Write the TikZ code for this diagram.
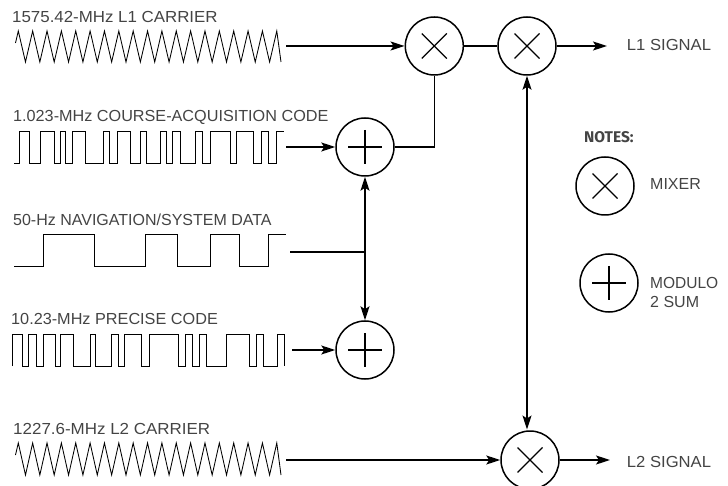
\documentclass[tikz,border=0pt]{standalone}
\usepackage{fontspec}
\setmainfont{Liberation Sans}
\newfontfamily\notesfont{Fira Sans}
\usetikzlibrary{arrows.meta}
\definecolor{labelgray}{HTML}{444444}
\newcommand{\carrierwave}[2]{%
  \draw[wave] (15.5,#1+12) -- (18.3,#1)
    \foreach \i in {0,...,17}{ -- ({25.48+14.36*\i},#2) -- ({32.66+14.36*\i},#1) }
    -- (281,#2);
}
\begin{document}
\begin{tikzpicture}[x=1pt,y=-1pt]

    \tikzset{
      wave/.style={line width=0.85pt, line join=miter},
      link/.style={line width=1.5pt},
      arrow/.style={link, -{Stealth[length=14pt,width=9pt,inset=3pt]}},
      twoway/.style={link, {Stealth[length=14pt,width=9pt,inset=3pt]}-{Stealth[length=14pt,width=9pt,inset=3pt]}},
      lbl/.style={anchor=base west, inner sep=0pt, text=labelgray, font=\fontsize{16}{16}\selectfont},
      mixer/.style={
        circle, draw, line width=1.5pt, minimum size=58pt, inner sep=0pt,
        path picture={
          \draw[line width=1.3pt] (path picture bounding box.center) +(-12.5,-12.5) -- +(12.5,12.5);
          \draw[line width=1.3pt] (path picture bounding box.center) +(-12.5,12.5) -- +(12.5,-12.5);
        },
      },
      sum/.style={
        circle, draw, line width=1.5pt, minimum size=58pt, inner sep=0pt,
        path picture={
          \draw[line width=1.3pt] (path picture bounding box.center) +(-17,0) -- +(17,0);
          \draw[line width=1.3pt] (path picture bounding box.center) +(0,-17) -- +(0,17);
        },
      },
    }
    \useasboundingbox (0,0) rectangle (728,486);
    \clip (0,0) rectangle (728,486);

    % input labels
    \node[lbl, xscale=1.055] (l1label) at (12,23) {1575.42-MHz L1 CARRIER};
    \node[lbl, xscale=1.013] (calabel) at (13,121.7) {1.023-MHz COURSE-ACQUISITION CODE};
    \node[lbl] (navlabel) at (13,226) {50-Hz NAVIGATION/SYSTEM DATA};
    \node[lbl, xscale=1.015] (plabel) at (11,324) {10.23-MHz PRECISE CODE};
    \node[lbl, xscale=1.06] (l2label) at (13,434) {1227.6-MHz L2 CARRIER};

    % input waveforms
    \carrierwave{31}{62}
    \carrierwave{443}{475}
    \draw[wave] (14,163.5) -| (19.5,131.5) -| (29,163.5) -| (40.7,131.5) -| (54.3,163.5)
      -| (60.7,131.5) -| (65,163.5) -| (72.7,131.5) -| (85.3,163.5) -| (103.3,131.5)
      -| (109.3,163.5) -| (117.3,131.5) -| (130.7,163.5) -| (140,131.5) -| (146,163.5)
      -| (160,131.5) -| (166.7,163.5) -| (172.7,131.5) -| (180.7,163.5) -| (195,131.5)
      -| (202.7,163.5) -| (210,131.5) -| (230,163.5) -| (236,131.5) -| (253.3,163.5)
      -| (261.7,131.5) -| (268.3,163.5) -| (276,131.5) -- (284,131.5);
    \draw[wave] (14,266) -| (43.3,234.3) -| (94,266) -| (145.7,234.3) -| (177.7,266)
      -| (210.7,234.3) -| (239,266) -| (268.3,234.3) -- (285.7,234.3);
    \draw[wave] (12.7,366) |- (22,334) -| (22,366) -| (28.3,334) -| (36,366) -| (43.3,334)
      -| (55.7,366) -| (60.7,334) -| (73.3,366) -| (90,334) -| (95,366) -| (111.7,334)
      -| (118.3,366) -| (124.3,334) -| (141.7,366) -| (149.3,334) -| (178.3,366)
      -| (185.7,334) -| (192.3,366) -| (199.3,334) -| (206.7,366) -| (226.7,334)
      -| (249.3,366) -| (256.7,334) -| (263.3,366) -| (277.3,334) -| (284.3,366);

    % mixers and sums
    \node[mixer] (mixa) at (434.3,46) {};
    \node[mixer] (mixb) at (527,46) {};
    \node[mixer] (mixc) at (530,460) {};
    \node[sum] (suma) at (365,147) {};
    \node[sum] (sumb) at (365,350) {};

    % free ends of connectors
    \coordinate (l1end) at (286,46);
    \coordinate (caend) at (286,147);
    \coordinate (navend) at (290,252);
    \coordinate (pend) at (292,350);
    \coordinate (l2end) at (286,460);
    \coordinate (l1out) at (607,46);
    \coordinate (l2out) at (610,460);
    \coordinate (navjoin) at (365,252);
    \coordinate (mixctop) at (527,429.5);

    \draw[arrow] (l1end) -- (mixa.west);
    \draw[arrow] (caend) -- (suma.west);
    \draw[arrow] (pend) -- (sumb.west);
    \draw[arrow] (l2end) -- (mixc.west);
    \draw[link] (mixa.east) -- (mixb.west);
    \draw[arrow] (mixb.east) -- (l1out);
    \draw[arrow] (mixc.east) -- (l2out);
    \draw[link] (suma.east) -| (mixa.south);
    \draw[link] (navend) -- (navjoin);
    \draw[twoway] (suma.south) -- (sumb.north);
    \draw[twoway] (mixb.south) -- (mixctop);

    % outputs and notes
    \node[lbl, xscale=1.04] (l1sig) at (626.7,51) {L1 SIGNAL};
    \node[lbl, xscale=1.04] (l2sig) at (626.7,467) {L2 SIGNAL};
    \node[lbl, font=\notesfont\bfseries\fontsize{15.5}{15.5}\selectfont] (notes) at (584,143) {NOTES:};
    \node[mixer] (mixkey) at (605,186) {};
    \node[sum] (sumkey) at (609,283) {};
    \node[lbl] (mixtext) at (650,190) {MIXER};
    \node[lbl, xscale=0.97] (modtext) at (650,288) {MODULO};
    \node[lbl] (sumtext) at (650,308) {2 SUM};

\end{tikzpicture}
\end{document}
